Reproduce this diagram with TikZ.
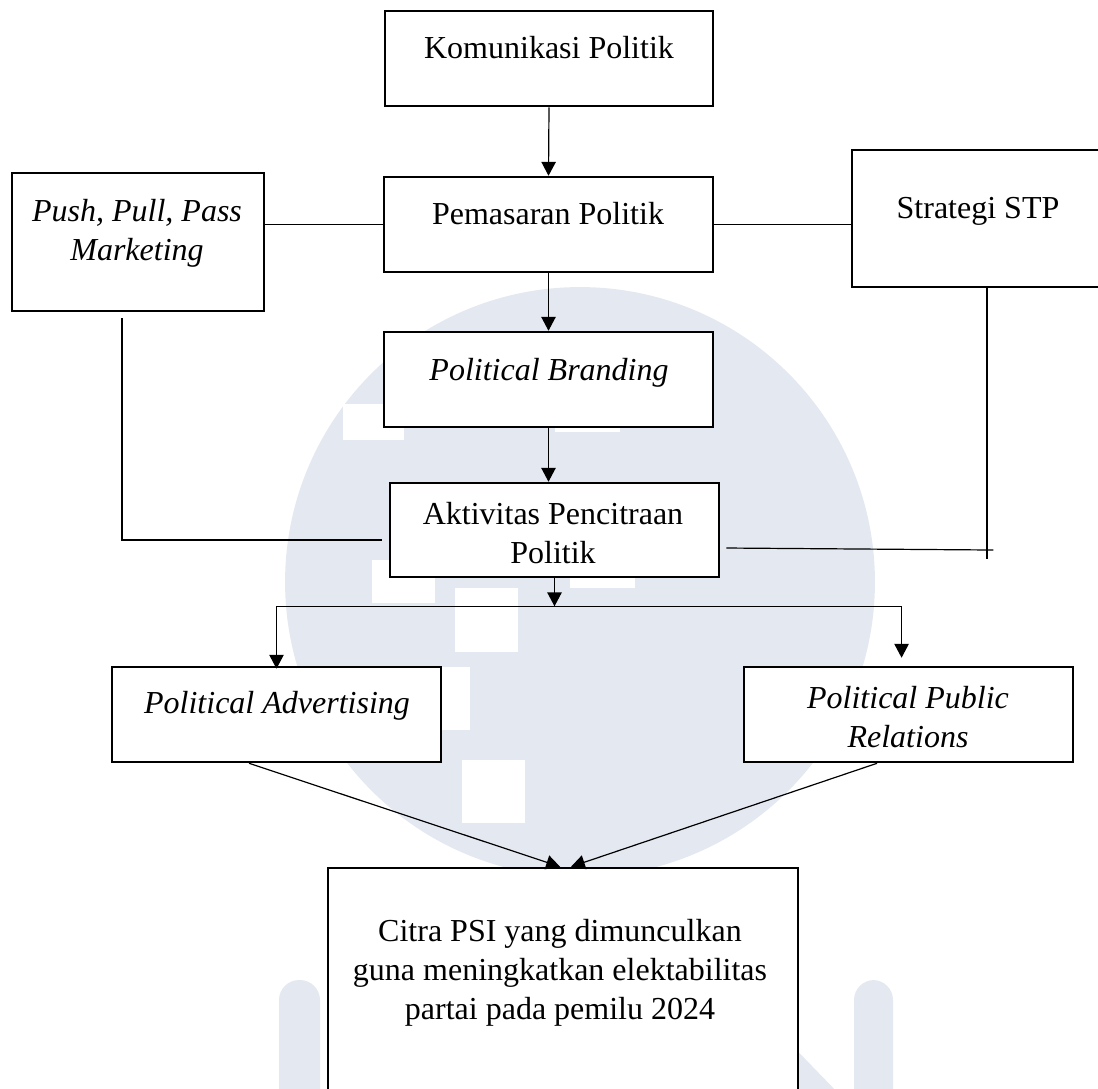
\documentclass[tikz,border=0pt]{standalone}
\usepackage{fontspec}
\setmainfont{Liberation Serif}
\usepackage{xcolor}
\usetikzlibrary{arrows.meta}
\definecolor{wmark}{RGB}{228,232,240}

\begin{document}
\begin{tikzpicture}[x=0.375pt, y=-0.375pt,
    font=\fontsize{12}{14.625}\selectfont,
    kotak/.style={draw, line width=0.95pt, fill=white, inner sep=0pt},
    teks/.style={anchor=base, align=center, inner sep=0pt},
    miring/.style={teks, font=\fontsize{12}{14.625}\selectfont\itshape},
    garis/.style={line width=0.45pt},
    panah/.style={garis, -{Triangle[length=5.2pt, width=5.4pt]}}]
    % 画布范围
    \clip (0,0) rectangle (1098,1088);
    \useasboundingbox (0,0) rectangle (1098,1088);

    % 背景水印
    \fill[wmark] (580,582) circle[radius=110.6pt];
    \fill[white] (343,404) rectangle (404,440);
    \fill[white] (555,380) rectangle (620,432);
    \fill[white] (372,560) rectangle (435,603);
    \fill[white] (570,560) rectangle (635,588);
    \fill[white] (455,588) rectangle (518,652);
    \fill[white] (433,667) rectangle (470,730);
    \fill[white] (462,760) rectangle (525,823);
    \fill[wmark, rounded corners=7.5pt] (279,980) rectangle (320,1110);
    \fill[wmark, rounded corners=7.5pt] (854,980) rectangle (893,1110);
    \fill[wmark] (640,950) -- (700,950) -- (840,1095) -- (780,1095) -- cycle;

    % 方框
    \node[kotak, minimum width=328*0.375pt, minimum height=95*0.375pt] (kom) at (549,58.5) {};
    \node[kotak, minimum width=329*0.375pt, minimum height=95*0.375pt] (pem) at (548.5,224.5) {};
    \node[kotak, minimum width=252*0.375pt, minimum height=138*0.375pt] (push) at (138,242) {};
    \node[kotak, minimum width=258*0.375pt, minimum height=137*0.375pt] (stp) at (981,218.5) {};
    \node[kotak, minimum width=329*0.375pt, minimum height=95*0.375pt] (brand) at (548.5,379.5) {};
    \node[kotak, minimum width=329*0.375pt, minimum height=94*0.375pt] (akt) at (554.5,530) {};
    \node[kotak, minimum width=329*0.375pt, minimum height=95*0.375pt] (adv) at (276.5,714.5) {};
    \node[kotak, minimum width=329*0.375pt, minimum height=95*0.375pt] (ppr) at (908.5,714.5) {};
    \node[kotak, minimum width=470*0.375pt, minimum height=240*0.375pt] (citra) at (563,988) {};

    % 文字
    \node[teks] (komT) at (549,58) {Komunikasi Politik};
    \node[teks] (pemT) at (548,224) {Pemasaran Politik};
    \node[miring] (pushT) at (137,260) {Push, Pull, Pass\\Marketing};
    \node[teks] (stpT) at (978,218) {Strategi STP};
    \node[miring] (brandT) at (549,380) {Political Branding};
    \node[teks] (aktT) at (553,563) {Aktivitas Pencitraan\\Politik};
    \node[miring] (advT) at (277,713) {Political Advertising};
    \node[miring] (pprT) at (908,747) {Political Public\\Relations};
    \node[teks] (citraT) at (560,1019) {Citra PSI yang dimunculkan\\guna meningkatkan elektabilitas\\partai pada pemilu 2024};

    % 连线
    \draw[panah] (kom.south) -- (pem.north);
    \draw[garis] (pem.west -| push.east) -- (pem.west);
    \draw[garis] (pem.east) -- (pem.east -| stp.west);
    \draw[panah] (pem.south) -- (brand.north);
    \draw[panah] (brand.south) -- (brand.south |- akt.north);
    \draw[garis] ([xshift=-6pt, yshift=-2.25pt]push.south) |- ([xshift=-2.6pt, yshift=-3.75pt]akt.west);
    \draw[garis] ([xshift=2.25pt]stp.south) -- ++(0,271);
    \draw[garis] ([xshift=2.25pt, yshift=-6.75pt]akt.east) -- ++(267,2);

    % 分支
    \coordinate (cabang) at ([yshift=-10.5pt]akt.south);
    \draw[panah] (akt.south) -- (cabang);
    \draw[garis] (cabang -| adv.north) -- ([xshift=-2.6pt]cabang -| ppr.north);
    \draw[panah] (cabang -| adv.north) -- ([yshift=-1.1pt]adv.north);
    \draw[panah] ([xshift=-2.6pt]cabang -| ppr.north) -- ([xshift=-2.6pt, yshift=3pt]ppr.north);
    \draw[panah] ([xshift=-10.3pt]adv.south) -- ([xshift=-1.1pt]citra.north);
    \draw[panah] ([xshift=-11.8pt]ppr.south) -- ([xshift=3pt]citra.north);
\end{tikzpicture}
\end{document}
